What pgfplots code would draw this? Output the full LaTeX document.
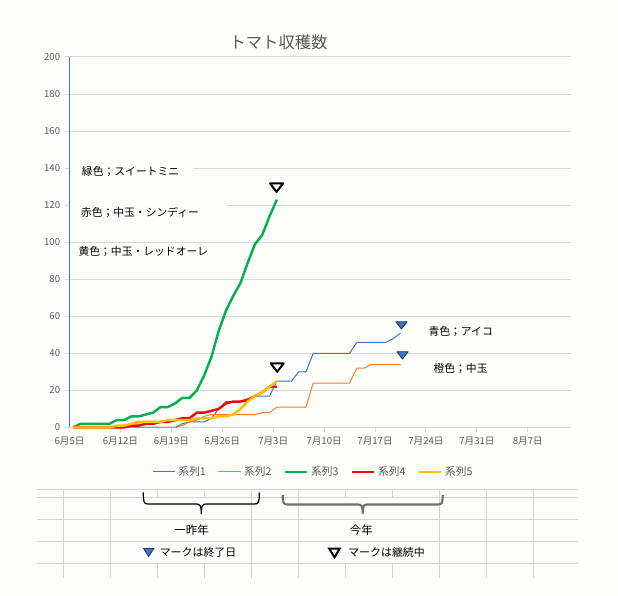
\documentclass[border=0pt]{standalone}
\usepackage{pgfplots}
\usepackage{pgfplotstable}
\pgfplotsset{compat=1.18}
\usepackage{fontspec}
\setmainfont{Noto Sans CJK JP}
\definecolor{bg}{RGB}{253,253,249}
\definecolor{gridc}{RGB}{217,217,217}
\definecolor{sheetgrid}{RGB}{212,212,212}
\definecolor{txtgray}{RGB}{89,89,89}
\definecolor{sA}{RGB}{68,114,196}
\definecolor{sB}{RGB}{237,125,49}
\definecolor{sC}{RGB}{0,176,80}
\definecolor{sD}{RGB}{255,0,0}
\definecolor{sE}{RGB}{255,192,0}
\definecolor{darkblue}{RGB}{31,56,100}
\definecolor{bracegray}{RGB}{110,110,110}

% day index d (0 = 6/5); points are placed at d+0.5 (Excel date axis, between ticks)
\pgfplotstableread{
d v
0 0
1 0
2 0
3 0
4 0
5 0
6 0
7 0
8 0
9 0
10 0
11 0
12 0
13 0
14 0
15 2
16 3
17 3
18 3
19 5
20 10
21 14
22 14
23 14
24 14
25 17
26 17
27 17
28 25
29 25
30 25
31 30
32 30
33 40
34 40
35 40
36 40
37 40
38 40
39 46
40 46
41 46
42 46
43 46
44 48
45 51
}\serA

\pgfplotstableread{
d v
0 0
1 0
2 0
3 0
4 0
5 0
6 0
7 0
8 0
9 0
10 0
11 0
12 0
13 0
14 0
15 1
16 3
17 4
18 6
19 7
20 7
21 7
22 7
23 7
24 7
25 7
26 8
27 8
28 11
29 11
30 11
31 11
32 11
33 24
34 24
35 24
36 24
37 24
38 24
39 32
40 32
41 34
42 34
43 34
44 34
45 34
}\serB

\pgfplotstableread{
d v
0 0
1 2
2 2
3 2
4 2
5 2
6 4
7 4
8 6
9 6
10 7
11 8
12 11
13 11
14 13
15 16
16 16
17 20
18 28
19 38
20 52
21 63
22 71
23 78
24 89
25 99
26 104
27 114
28 123
}\serC

\pgfplotstableread{
d v
0 0
1 0
2 0
3 0
4 0
5 0
6 0
7 0
8 1
9 1
10 2
11 2
12 3
13 3
14 4
15 5
16 5
17 8
18 8
19 9
20 10
21 13
22 14
23 14
24 15
25 17
26 19
27 22
28 22
}\serD

\pgfplotstableread{
d v
0 0
1 0
2 0
3 0
4 0
5 0
6 1
7 1
8 2
9 3
10 3
11 3
12 3
13 4
14 4
15 4
16 4
17 5
18 5
19 5
20 6
21 6
22 7
23 10
24 14
25 17
26 19
27 22
28 25
}\serE

\begin{document}
\begin{tikzpicture}[x=0.75pt,y=0.75pt]
\fill[bg] (0,0) rectangle (618,596);
% ---- worksheet grid below the chart (pixel coordinates, y downwards)
\begin{scope}[shift={(0,596)},yscale=-1]
  \foreach \yy in {489.3,497.3,519.3,541.3,563.3}
    \draw[sheetgrid,line width=0.75pt] (36.7,\yy) -- (578,\yy);
  \foreach \xx in {63.3,110.3,251.3,298.3,439.3,486.3,533.3}
    \draw[sheetgrid,line width=0.75pt] (\xx,489.3) -- (\xx,578);
  \foreach \xx in {157.3,204.3,345.3,392.3}{
    \draw[sheetgrid,line width=0.75pt] (\xx,489.3) -- (\xx,497.3);
    \draw[sheetgrid,line width=0.75pt] (\xx,563.3) -- (\xx,578);}
  % braces
  \draw[black,line width=0.9pt] (143.3,492.5) .. controls (143.3,502.5) and (144,504) .. (148,504)
     -- (196,504) .. controls (200,504) and (201.3,505) .. (201.3,514)
     .. controls (201.3,505) and (202.6,504) .. (206.6,504) -- (254.6,504)
     .. controls (258.6,504) and (259.3,502.5) .. (259.3,492.5);
  \draw[bracegray,line width=1.6pt] (282.7,495) .. controls (282.7,503) and (283.5,504.5) .. (287.5,504.5)
     -- (358,504.5) .. controls (361.5,504.5) and (362.7,505.5) .. (362.7,513.5)
     .. controls (362.7,505.5) and (363.9,504.5) .. (367.4,504.5) -- (437.9,504.5)
     .. controls (441.9,504.5) and (442.7,503) .. (442.7,495);
  \node[font=\fontsize{8.6pt}{10pt}\selectfont] at (191.6,530) {一昨年};
  \node[font=\fontsize{8.6pt}{10pt}\selectfont] at (361.3,530) {今年};
  % key symbols of the annotation
  \filldraw[fill=sA,draw=darkblue,line width=0.6pt] (143.6,548.6) -- (153.8,548.6) -- (148.7,556.5) -- cycle;
  \draw[black,line width=1.5pt,line join=miter] (329.2,548.6) -- (339.8,548.6) -- (334.5,557.3) -- cycle;
  \node[anchor=west,inner sep=0pt,font=\fontsize{8.2pt}{10pt}\selectfont] at (159.5,552.5) {マークは終了日};
  \node[anchor=west,inner sep=0pt,font=\fontsize{8.2pt}{10pt}\selectfont] at (348,552.5) {マークは継続中};
\end{scope}

\begin{axis}[
  at={(52.125pt,126.375pt)}, anchor=south west,
  scale only axis, width=376.5pt, height=277.9pt,
  xmin=0, xmax=69, ymin=0, ymax=200,
  axis x line*=bottom, axis y line*=left,
  x axis line style={draw=gridc, line width=0.75pt, -},
  y axis line style={draw=sA, line width=0.75pt, -},
  ytick={0,20,...,200},
  xtick={0,7,...,63},
  xticklabels={6月5日,6月12日,6月19日,6月26日,7月3日,7月10日,7月17日,7月24日,7月31日,8月7日},
  tick align=outside, major tick length=3.5pt,
  tick style={draw=gridc, line width=0.75pt},
  ymajorgrids, major grid style={draw=gridc, line width=0.75pt},
  ticklabel style={font=\fontsize{7.2pt}{8pt}\selectfont, text=txtgray},
  /pgf/number format/assume math mode=true,
  legend style={at={(0.4865,-0.12)}, anchor=center, draw=none, fill=none,
     font=\fontsize{8pt}{9pt}\selectfont, text=txtgray, legend columns=5,
     /tikz/every even column/.append style={column sep=7pt}},
  legend image code/.code={\draw[#1,line cap=butt] (0pt,0pt) -- (17pt,0pt);},
  every axis plot/.append style={line join=round},
  clip=false,
]
\addplot[sA, line width=0.75pt] table[x expr=\thisrow{d}+0.5, y=v] {\serA};
\addlegendentry{系列1}
\addplot[sB, line width=0.75pt] table[x expr=\thisrow{d}+0.5, y=v] {\serB};
\addlegendentry{系列2}
\addplot[sC, line width=1.8pt] table[x expr=\thisrow{d}+0.5, y=v] {\serC};
\addlegendentry{系列3}
\addplot[sD, line width=1.8pt] table[x expr=\thisrow{d}+0.5, y=v] {\serD};
\addlegendentry{系列4}
\addplot[sE, line width=1.8pt] table[x expr=\thisrow{d}+0.5, y=v] {\serE};
\addlegendentry{系列5}
% end-of-season markers
\addplot[only marks, forget plot, mark=triangle*, mark size=5.6pt,
  mark options={rotate=180, yscale=0.75, fill=white, draw=black, line width=1.5pt}]
  coordinates {(28.46,130.2) (28.55,33.1)};
\addplot[only marks, forget plot, mark=triangle*, mark size=4.8pt,
  mark options={rotate=180, yscale=0.75, fill=sA, draw=darkblue, line width=0.7pt}]
  coordinates {(45.63,55.8) (45.77,39.6)};
\end{axis}

% ---- title and text boxes (pixel coordinates, y downwards)
\begin{scope}[shift={(0,596)},yscale=-1]
  \node[text=txtgray,font=\fontsize{12.2pt}{14pt}\selectfont] at (278.5,42.5) {トマト収穫数};
  \fill[bg] (70.4,161) rectangle (192.7,181);
  \fill[bg] (70.4,201) rectangle (226.7,223);
  \node[anchor=west,inner sep=0pt,font=\fontsize{8.1pt}{10pt}\selectfont] at (81.7,171.5) {緑色；スイートミニ};
  \node[anchor=west,inner sep=0pt,font=\fontsize{8.1pt}{10pt}\selectfont] at (80.7,212.7) {赤色；中玉・シンディー};
  \node[anchor=west,inner sep=0pt,font=\fontsize{8.1pt}{10pt}\selectfont] at (78.3,251.7) {黄色；中玉・レッドオーレ};
  \node[anchor=west,inner sep=0pt,font=\fontsize{8.1pt}{10pt}\selectfont] at (428.3,332) {青色；アイコ};
  \node[anchor=west,inner sep=0pt,font=\fontsize{8.1pt}{10pt}\selectfont] at (433.3,368.5) {橙色；中玉};
\end{scope}
\end{tikzpicture}
\end{document}
